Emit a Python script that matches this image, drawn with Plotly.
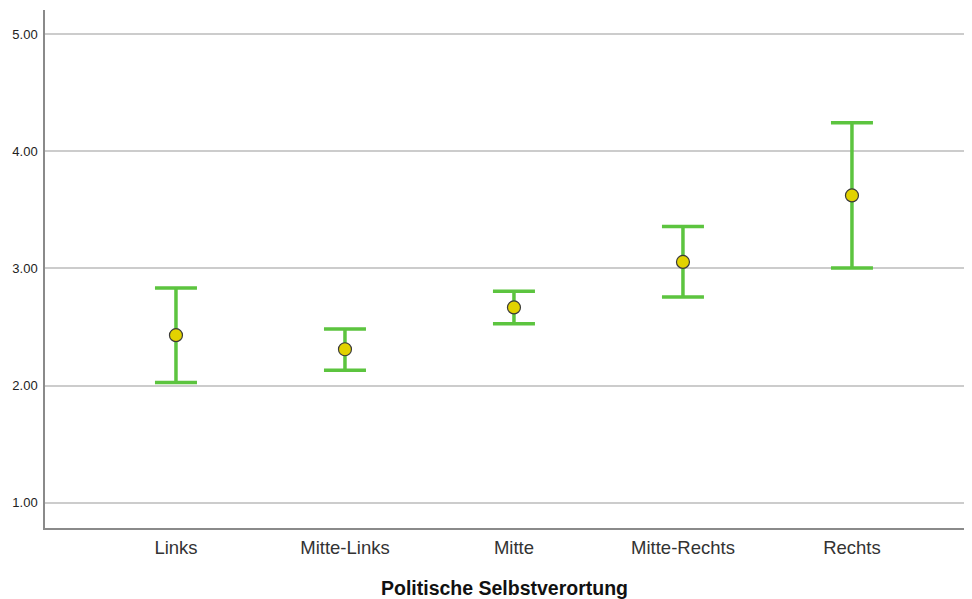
import plotly.graph_objects as go

categories = ["Links", "Mitte-Links", "Mitte", "Mitte-Rechts", "Rechts"]
means = [2.43, 2.31, 2.667, 3.056, 3.624]
upper = [2.834, 2.484, 2.806, 3.359, 4.244]
lower = [2.026, 2.131, 2.527, 2.757, 3.005]
y_ticks = [1, 2, 3, 4, 5]
y_tick_labels = ["1.00", "2.00", "3.00", "4.00", "5.00"]

err_plus = [u - m for u, m in zip(upper, means)]
err_minus = [m - l for m, l in zip(means, lower)]

fig = go.Figure()
fig.add_trace(go.Scatter(
    x=categories, y=means, mode="markers",
    marker=dict(size=13, color="#e2d200", line=dict(color="#3a3a3a", width=1.2)),
    error_y=dict(type="data", symmetric=False, array=err_plus, arrayminus=err_minus,
                 color="#5cc43f", thickness=3.5, width=21),
    showlegend=False,
))

fig.update_layout(
    width=956, height=591,
    margin=dict(l=37, r=0, t=2, b=71),
    plot_bgcolor="white", paper_bgcolor="white",
    font=dict(family="Liberation Sans, Arial, sans-serif", color="#222"),
    xaxis=dict(
        range=[-0.775, 4.663], showgrid=False, showline=True, linecolor="#8a8a8a", linewidth=1.5,
        ticks="", tickfont=dict(size=18.5, color="#333"), automargin=False, ticklabelstandoff=2,
        title=dict(text="<b>Politische Selbstverortung</b>", font=dict(size=19.5, color="#111"), standoff=26),
    ),
    yaxis=dict(
        range=[0.783, 5.208], showgrid=True, gridcolor="#cccccc", gridwidth=1.5,
        showline=True, linecolor="#8a8a8a", linewidth=1.5, zeroline=False, automargin=False,
        tickvals=y_ticks, ticktext=y_tick_labels, ticks="", ticklabelstandoff=3,
        tickfont=dict(size=13, color="#222"),
    ),
)

fig.write_html("out.html")
